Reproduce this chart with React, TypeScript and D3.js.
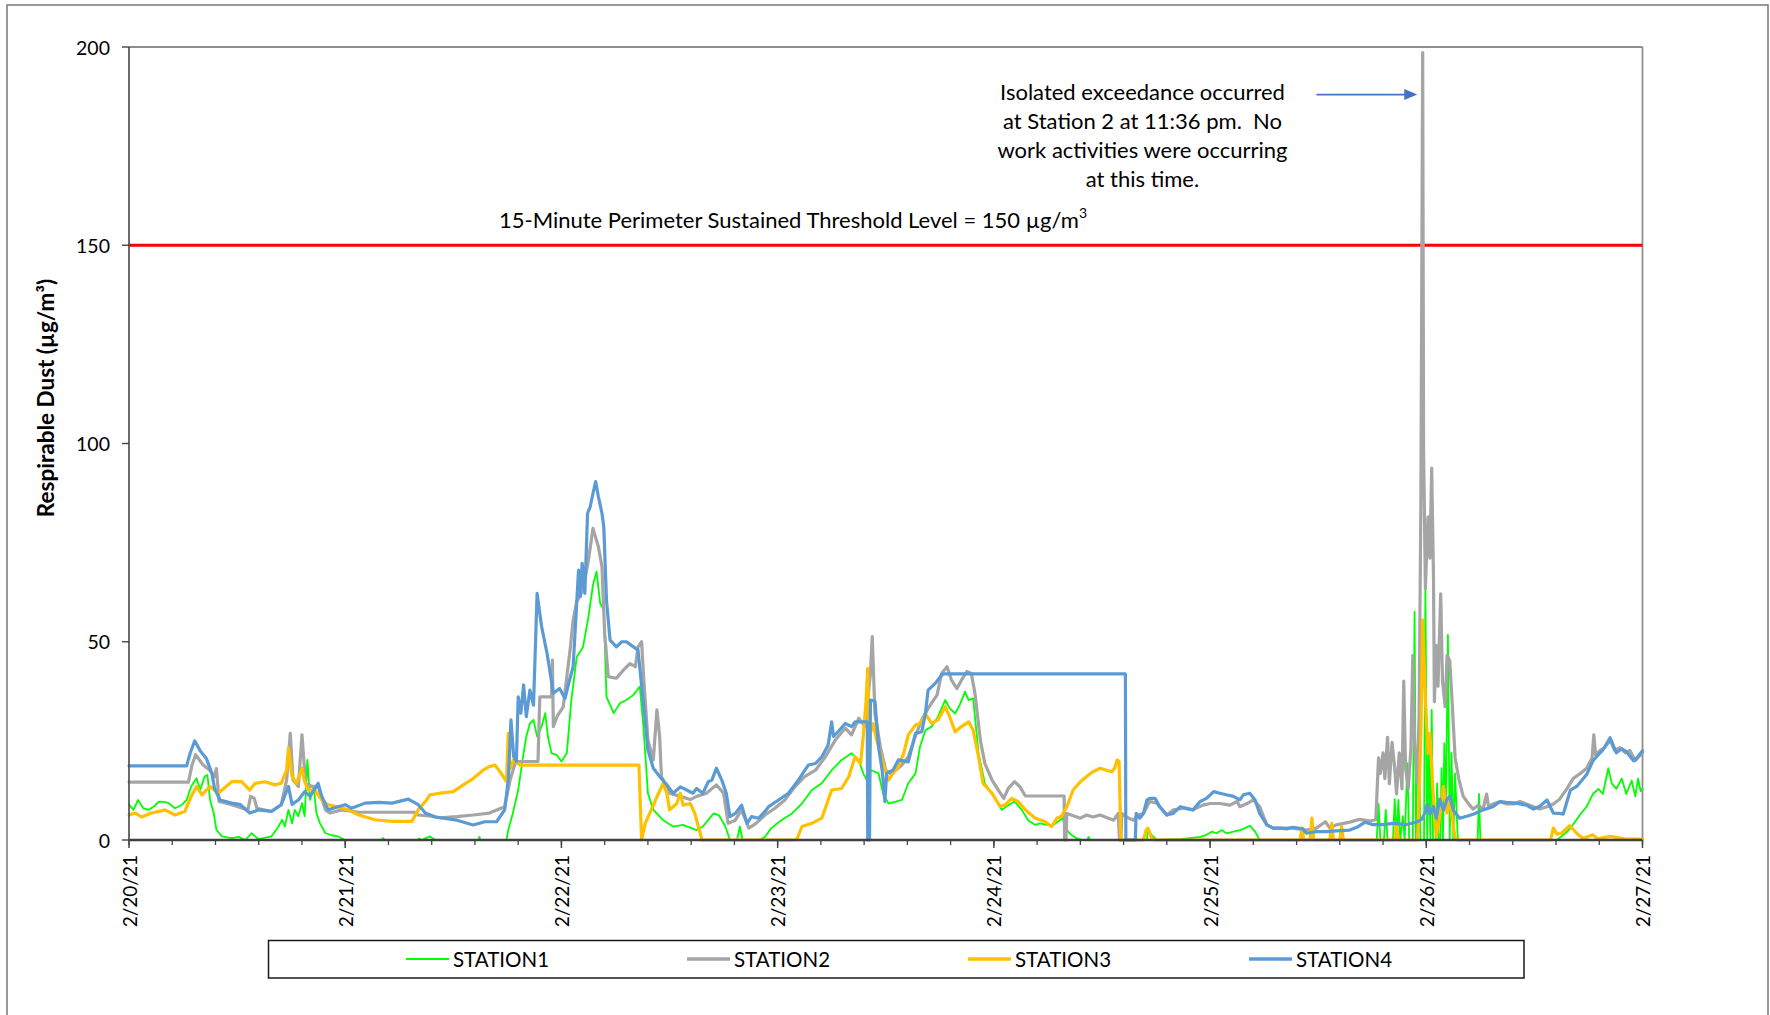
import React from "react";
import * as d3 from "d3";

// ---------- DATA (hours since 2/20/21 00:00, µg/m³) ----------
const station1: [number, number][] = [
  [0,8.9],[0.5,7.6],[1.0,10.1],[1.6,8],[2.2,7.6],[2.8,8.5],[3.3,9.7],[3.9,9.6],[4.4,9.3],[5.1,8],[5.9,8.9],[6.4,10.1],[6.9,13.5],[7.5,15.6],[7.9,12.6],[8.4,16],[8.7,16.4],[9.0,10.1],[9.4,6.8],[9.7,2.6],[10.3,0.9],[11.4,0.5],[12.2,0.8],[12.9,0],[13.6,1.7],[14.4,0.2],[15.8,0.9],[16.6,3.4],[17.0,5.1],[17.3,3.4],[17.7,7.6],[18.1,4.2],[18.4,7.6],[18.8,6],[19.2,9.3],[19.5,6],[19.8,20.2],[20.1,10.1],[20.5,13.5],[20.8,6.8],[21.2,4.2],[21.8,1.7],[22.5,1.2],[23.2,0.9],[24.0,0],[28.0,0],[28.2,0.5],[28.4,0],[32.0,0],[32.2,0.4],[32.5,0],[33.4,0.9],[34.0,0],[38.8,0],[38.9,0.8],[39.0,0],[41.9,0],[42.1,2.5],[42.6,6.7],[43.2,12.6],[43.8,21.9],[44.1,26.1],[44.5,29.4],[44.9,30.3],[45.3,26.1],[45.8,28.6],[46.2,32],[46.5,26.1],[46.9,21.9],[47.5,21.4],[48.0,19.8],[48.6,21.9],[49.1,35.3],[49.7,46.2],[50.4,48.7],[51.0,56.3],[51.5,64.3],[51.9,67.7],[52.3,59.7],[52.7,58],[53.0,36.1],[53.8,32],[54.5,34.5],[55.2,35.3],[56.0,36.6],[56.7,38.7],[57.1,28.6],[57.6,11.8],[58.2,7.6],[59.3,5],[60.4,3.4],[61.5,3.8],[63.0,2.5],[63.7,3.4],[64.9,6.7],[65.5,6.2],[66.2,3.4],[66.7,0],[67.5,0],[67.8,3.4],[68.1,0],[70.0,0],[70.6,0.8],[71.3,3],[72.4,5],[73.6,6.7],[74.7,9.2],[75.8,12.6],[76.9,14.3],[78.0,17.6],[79.1,20.2],[80.2,21.9],[81.0,20.2],[81.5,16.8],[81.9,15.1],[82.4,17.6],[83.2,16.8],[83.7,11.8],[84.3,9.2],[85.0,9.6],[85.8,10.1],[86.5,14.3],[87.3,16.8],[87.8,23.5],[88.4,27.7],[89.1,28.6],[89.8,31.1],[90.6,35.3],[91.1,33.2],[91.7,31.9],[92.2,34],[92.8,37.4],[93.2,35.3],[93.7,35.7],[94.3,21.9],[95.0,14.3],[96.0,10.9],[96.9,7.6],[97.6,8.8],[98.3,9.7],[99.1,7.6],[99.8,5],[100.6,3.8],[101.1,4.2],[101.9,3.8],[102.6,3.8],[103.3,5],[103.6,5.5],[104.1,2.5],[104.6,1.3],[105.2,0.4],[105.9,0],[106.4,0],[106.5,0.8],[106.7,0],[113.0,0],[113.1,3],[113.5,1.3],[114.1,0],[116.7,0.2],[118.9,0.8],[119.6,1.3],[120.2,2.1],[120.7,1.7],[121.3,2.5],[121.8,1.7],[122.6,2.1],[123.3,2.5],[123.9,3],[124.4,3.6],[125.0,2.1],[125.5,0],[138.5,0],[138.7,9.1],[138.9,0],[139.3,0],[139.5,7.6],[139.7,0],[140.3,0],[140.5,10.3],[140.7,0],[140.9,10.1],[141.1,0],[141.4,6],[141.6,0],[141.9,19.4],[142.1,0],[142.5,0],[142.7,57.6],[142.85,0],[143.0,20.7],[143.2,22.7],[143.35,0],[143.75,0],[143.9,63.9],[144.1,0],[144.3,25.9],[144.45,0],[144.6,32.8],[144.75,0],[145.05,0],[145.2,14.3],[145.35,0],[145.55,0],[145.7,18.1],[145.85,0],[146.0,24.4],[146.2,10],[146.4,51.7],[146.6,0],[146.8,22],[147.0,0],[147.2,16.8],[147.5,0],[149.7,0],[149.85,11.6],[150.0,0],[158.5,0],[159.6,2],[160.3,3.9],[161.1,6.5],[161.8,8.4],[162.5,11.6],[163.1,12.9],[163.6,11.6],[164.2,18.1],[164.6,14.2],[165.1,12.9],[165.7,15.5],[166.2,11.6],[166.8,15],[167.2,11],[167.5,15.5],[167.8,12.3],[168,13]
];

const station2: [number, number][] = [
  [0,14.6],[6.6,14.6],[7.0,19],[7.4,21.5],[8.2,19],[8.9,17.7],[9.5,16],[9.7,18],[10.0,9.7],[11.4,8.9],[13.2,7.6],[13.5,11],[13.9,10.5],[14.2,8],[15.8,7.2],[16.9,8.9],[17.5,15.2],[17.9,26.9],[18.2,15.2],[18.8,13.5],[19.2,26.5],[19.6,14.3],[20.3,13.5],[21.0,13.5],[21.8,7.6],[22.3,6.8],[23.6,7.6],[25.5,7.0],[31.7,7.0],[32.1,6.3],[33.6,6.0],[34.5,5.6],[36.4,5.9],[38.2,6.3],[40.0,6.8],[41.7,8.4],[42.3,15.1],[42.8,18.9],[43.0,19.8],[45.4,19.8],[45.6,36.1],[46.9,36.1],[47.0,45.4],[47.1,28.6],[47.5,31.1],[48.2,33.6],[49.0,48.7],[49.3,55.5],[49.7,60.1],[50.4,63.1],[51.0,70.6],[51.5,78.6],[52.1,74],[52.5,68.9],[52.8,52.1],[53.2,41.2],[54.1,40.8],[54.9,42.9],[55.6,44.5],[56.2,43.7],[56.5,48.7],[56.9,50],[57.1,42],[57.6,25.2],[58.2,20.2],[58.6,32.8],[58.9,26.1],[59.1,16],[60.0,11.8],[61.2,11],[62.3,10.2],[63.0,11],[64.1,11.8],[65.2,13.9],[66.0,11.8],[66.5,4.2],[67.3,5],[68.0,7.6],[68.8,3],[69.6,4.2],[70.6,6.3],[71.7,8],[72.8,10.1],[73.9,13.4],[75.0,16],[76.2,17.6],[77.3,21],[78.4,25.2],[79.5,28.2],[80.2,26.5],[81.0,30.7],[81.7,28.6],[82.3,42],[82.5,51.3],[82.8,31.9],[83.4,23.5],[84.0,17.6],[84.5,16.8],[85.1,17.6],[85.8,18.9],[86.5,21],[87.4,26.9],[88.0,30.3],[88.7,33.2],[89.7,36.6],[90.2,42],[90.8,43.7],[91.3,40.3],[91.9,38.2],[92.4,40.3],[93.0,42.5],[93.5,42],[93.9,37],[94.5,25.2],[95.0,19.3],[95.8,15.1],[96.5,12.6],[97.1,10.5],[97.6,13],[98.3,14.7],[98.9,13.4],[99.5,11.1],[103.8,11.1],[103.85,0],[104.0,0],[104.1,6.7],[105.6,5.5],[106.3,6.3],[107.0,5.8],[107.8,6.3],[108.5,5.7],[109.3,5],[109.8,6.7],[109.95,0],[110.1,0],[110.2,6.7],[110.7,5.8],[111.5,5],[112.0,6.3],[112.6,6.7],[113.3,9.7],[114.1,9.3],[115.2,6.3],[115.9,7.6],[117.0,8],[118.1,7.6],[119.2,8.8],[120.0,9.2],[121.1,9.2],[122.2,8.8],[123.0,9.7],[123.3,8.4],[124.1,9.2],[124.8,10.1],[125.5,8.4],[126.3,3.8],[127.0,3],[128.1,3],[129.2,3],[130.7,2.5],[131.8,3],[132.8,4.6],[133.3,3],[134.0,3.8],[135.5,4.5],[136.6,5.2],[137.8,4.8],[138.4,5.2],[138.7,20.7],[138.9,16.8],[139.2,22],[139.4,15.5],[139.7,25.9],[139.9,14.2],[140.2,24.6],[140.5,18.1],[140.7,11.6],[141.0,22],[141.3,12.9],[141.5,40.1],[141.7,18.1],[142.0,12.9],[142.3,23.3],[142.5,46.6],[142.7,24.6],[143.0,14.2],[143.2,31],[143.4,85.4],[143.6,198.6],[143.7,98.3],[143.9,63.4],[144.0,69.8],[144.2,81.5],[144.4,71.1],[144.6,93.8],[144.8,66],[144.9,34.9],[145.1,49.1],[145.3,38.8],[145.6,62.1],[145.8,40.1],[146.1,33.6],[146.3,46.6],[146.6,45.3],[146.9,33.6],[147.2,20.7],[147.6,15.5],[148.1,11],[148.7,9.1],[149.2,7.8],[149.8,8.8],[150.3,7.8],[150.7,11.6],[150.9,8.5],[151.4,9.1],[152.2,9.7],[152.9,9.1],[153.7,9.1],[154.4,9.7],[155.1,9.1],[155.9,8.4],[156.6,7.8],[157.4,8.4],[158.1,9.1],[158.8,10.3],[159.6,12.9],[160.3,15.5],[161.1,16.8],[161.8,18.1],[162.4,20.7],[162.6,26.5],[162.8,21.4],[163.3,22.6],[163.8,23.3],[164.4,25.2],[164.9,22.6],[165.5,23.3],[166.1,22],[166.6,22.6],[167.2,20],[167.7,21.3],[168,22]
];

const station3: [number, number][] = [
  [0,6.3],[0.7,6.8],[1.4,5.8],[2.5,6.8],[4.0,7.6],[5.1,6.3],[6.2,7.2],[6.9,11],[7.5,13.5],[8.1,11.4],[9.0,13.5],[9.9,11.8],[11.4,14.7],[12.5,14.7],[13.4,12.6],[14.0,14.3],[15.1,14.7],[16.2,13.9],[16.9,14.3],[17.5,17.7],[17.7,23.2],[18.1,16],[18.6,14.3],[19.2,18.1],[19.5,14.7],[19.9,12.6],[20.6,12.6],[21.4,10.1],[22.1,8.9],[23.2,8.4],[24.3,7.6],[25.5,6.3],[27.3,5.1],[29.2,4.7],[31.4,4.7],[32.1,7.6],[32.9,9.7],[33.4,11.4],[34.5,11.8],[36.0,12.2],[37.1,13.9],[38.2,15.5],[39.3,17.6],[40.0,18.5],[40.6,18.9],[41.2,17.2],[41.9,14.7],[42.1,26.9],[42.3,18],[42.7,20.2],[43.4,18.9],[56.6,18.9],[56.9,0],[57.3,4.2],[57.8,6.7],[58.6,10.9],[59.3,14.3],[59.7,11.8],[60.0,7.6],[60.8,9.2],[61.2,11.8],[61.5,8.8],[62.3,9.2],[62.8,6.7],[63.2,3.4],[63.6,0],[74.1,0],[74.7,3.4],[75.8,4.2],[76.9,5.5],[78.0,12.6],[79.1,13],[79.9,16],[80.6,21],[81.2,19.3],[81.5,26.1],[81.8,34.5],[82.0,43.3],[82.15,20],[82.3,26.9],[82.6,29.4],[83.0,25.2],[83.4,21.9],[83.7,19.3],[84.3,15.1],[84.8,16.8],[85.4,18.5],[86.0,21.9],[86.5,26.5],[87.3,29],[87.8,29.4],[88.5,31.5],[89.1,29.4],[89.8,30.3],[90.6,33.6],[91.1,31.1],[91.7,27.3],[92.4,28.6],[93.2,29.8],[93.7,27.7],[94.3,21],[94.8,14.3],[95.8,11.8],[96.7,8.4],[97.2,8.8],[98.0,10.5],[98.7,9.7],[99.5,7.6],[100.6,5.5],[101.7,4.6],[102.4,3.4],[103.0,5.5],[103.5,6],[104.1,8.4],[104.8,12.6],[105.6,14.7],[106.3,16],[107.0,17.2],[107.8,18.1],[108.5,17.6],[109.1,17.2],[109.4,18.1],[109.7,20.2],[109.9,19.8],[110.1,0],[112.6,0],[112.9,2.5],[113.1,3],[113.5,0.5],[113.9,0],[130.0,0],[130.2,3],[130.4,0],[131.1,0],[131.3,5.5],[131.5,0],[133.3,0],[133.5,4.2],[133.7,0],[134.4,0],[134.6,3.4],[134.8,0],[140.5,0],[140.7,4.2],[140.9,0],[143.0,0],[143.1,3.4],[143.4,26.9],[143.6,55.5],[143.9,35.3],[144.2,21.9],[144.4,26.9],[144.8,10.1],[145.1,0.9],[145.5,5.9],[145.9,13.5],[146.3,6.8],[146.6,10.1],[147.2,0.5],[147.5,0],[157.8,0],[158.1,3],[158.5,1.5],[159.0,1.7],[159.9,3.6],[160.7,1.7],[161.4,0.4],[162.5,1.3],[163.0,0.3],[164.4,0.9],[166,0.3],[168,0.2]
];

const station4: [number, number][] = [
  [0,18.7],[6.4,18.7],[6.8,22],[7.3,25],[7.9,22.5],[8.6,20.5],[9.2,16.8],[9.5,13],[10.1,10.1],[11.4,9.3],[12.3,9],[13.4,6.8],[14.4,7.6],[15.8,7.2],[16.9,8.9],[17.7,13.5],[18.1,9],[18.8,10.1],[19.5,12.2],[20.1,11],[21.0,14.3],[21.4,11],[22.1,7.6],[23.2,8.4],[24.0,8.9],[24.7,8],[26.2,9.3],[27.7,9.5],[29.2,9.3],[31.0,10.3],[32.1,8.9],[32.9,6.8],[34.0,5.8],[36.4,5.0],[38.2,3.8],[39.5,4.6],[40.8,4.6],[41.7,7.6],[42.1,15.1],[42.4,30.3],[42.7,21],[43.0,19.8],[43.2,36.1],[43.5,32],[43.8,39.1],[44.1,31.1],[44.5,37.8],[44.9,34],[45.3,62.2],[45.8,53.8],[46.4,47.1],[46.7,42.9],[47.1,37],[47.8,38.2],[48.4,35.7],[48.9,40.3],[49.3,43.7],[49.9,68.1],[50.1,61.4],[50.3,69.8],[50.6,62.2],[50.9,82.4],[51.2,84.1],[51.5,87.4],[51.8,90.4],[52.1,86.6],[52.5,82.4],[52.7,79],[53.0,60.5],[53.4,50.4],[54.1,48.7],[54.7,50],[55.2,50],[56.0,48.7],[56.5,47.9],[57.1,34.5],[57.6,22.7],[58.2,18.1],[58.9,16],[59.7,13.9],[60.4,11.8],[61.2,13.4],[61.9,12.6],[62.6,11.8],[63.0,13],[63.7,11.8],[64.3,14.7],[64.7,15.1],[65.2,18.1],[65.8,15.1],[66.3,11.8],[66.7,5.9],[67.3,6.7],[68.0,8.8],[68.6,4.2],[69.1,5.9],[69.9,5.5],[70.6,7.2],[71.0,8.4],[72.1,10.1],[73.2,11.8],[74.3,15.1],[75.4,18.9],[76.2,19.3],[76.9,21],[77.6,23.9],[78.0,29.8],[78.2,26.1],[78.7,27.3],[79.5,29.4],[80.2,28.6],[80.6,29.8],[81.95,29.8],[82.0,0],[82.2,0],[82.3,35.3],[82.8,35],[83.2,23.5],[83.6,17.6],[83.9,9.7],[84.1,16.8],[84.8,17.6],[85.4,20.2],[86.5,19.7],[87.3,26.9],[88.0,27.3],[88.4,31.9],[88.7,37.8],[89.5,39.5],[90.2,41.6],[90.4,41.9],[110.6,41.9],[110.65,0],[111.7,0],[111.8,6.7],[112.2,5.5],[112.6,6.7],[113.0,10.1],[113.3,10.5],[113.9,10.5],[114.4,8.4],[115.2,6.3],[115.9,6.7],[116.7,8.4],[117.4,8],[118.1,7.6],[118.9,9.7],[119.6,10.5],[120.4,12.2],[121.1,11.8],[121.8,11.4],[122.6,11],[123.3,10.1],[123.7,11.4],[124.4,11.8],[125.0,10.1],[125.5,6.7],[126.3,3.8],[127.0,3],[127.8,3],[128.5,2.8],[129.2,3.2],[130.3,2.8],[130.7,1.7],[131.8,2.1],[132.9,2.1],[134.0,2.3],[135.5,2.5],[136.3,3.2],[137.2,4.5],[138.0,3.9],[139.2,3.9],[140.3,4.2],[141.8,3.9],[142.9,4.5],[143.5,5.2],[143.9,7.1],[144.1,9.1],[144.4,6.5],[144.8,8.4],[145.1,5.5],[145.5,10.3],[145.9,7.5],[146.3,10.3],[146.6,11],[147.0,7.5],[147.7,5.5],[148.5,6],[149.2,6.5],[150.3,7.6],[151.4,8.4],[152.2,9.7],[152.9,9.5],[154.0,9.3],[155.1,8.8],[155.9,7.8],[156.6,8.5],[157.4,10.1],[158.1,6.8],[158.8,6.7],[159.2,6.5],[160.0,12.6],[160.7,13.5],[161.8,16.5],[162.5,20],[163.3,22],[163.6,22.7],[164.4,25.8],[165.1,22],[165.7,23],[166.2,22.3],[167.0,20],[167.5,21],[168,22.5]
];

const seriesNames = ["STATION1", "STATION2", "STATION3", "STATION4"];
const seriesColors = ["#00ff00", "#a5a5a5", "#ffc000", "#5b9bd5"];
const seriesWidths = [1.8, 3.2, 3.2, 3.2];
const seriesData = [station1, station2, station3, station4];
const drawOrder = [0, 1, 2, 3];

const yTicks = [0, 50, 100, 150, 200];
const thresholdValue = 150;
const thresholdLabel = "15-Minute Perimeter Sustained Threshold Level = 150 µg/m";
const annotationLines = [
  "Isolated exceedance occurred",
  "at Station 2 at 11:36 pm.  No",
  "work activities were occurring",
  "at this time.",
];
const yTitle = "Respirable Dust (µg/m³)";
const startDate = new Date(2021, 1, 20);
const numDays = 7;
const minorStepHours = 4.8;

// ---------- LAYOUT ----------
const W = 1770, H = 1015;
const PL = 129, PR = 1642.5, PT = 47, PB = 840;
const FONT = "Lato, 'Open Sans', sans-serif";

const toDate = (h: number) => new Date(startDate.getTime() + h * 3600e3);

export default function App() {
  const x = d3.scaleTime().domain([startDate, toDate(numDays * 24)]).range([PL, PR]);
  const y = d3.scaleLinear().domain([0, 200]).range([PB, PT]);
  const line = d3.line<[number, number]>().x(d => x(toDate(d[0]))).y(d => y(d[1]));
  const days = d3.range(0, numDays + 1).map(i => toDate(i * 24));
  const minors = d3.range(0, Math.round((numDays * 24) / minorStepHours) + 1).map(i => toDate(i * minorStepHours));
  const fmt = d3.timeFormat("%-m/%-d/%y");

  const legendX0 = 406, legendStep = 281, legendY = 959;

  const arrowY = y(188);
  const arrowX1 = x(toDate(131.8));
  const arrowX2 = x(toDate(143.0));

  return (
    <svg width={W} height={H} style={{ position: "absolute", left: 0, top: 0, background: "#fff" }} fontFamily={FONT}>
      <rect x={0} y={0} width={W} height={H} fill="#fff" />
      <rect x={7} y={5} width={1761} height={1030} fill="none" stroke="#7a7a7a" strokeWidth={1.5} />

      <line x1={PL} x2={PR} y1={PT} y2={PT} stroke="#8e8e8e" strokeWidth={1.8} />
      <line x1={PR} x2={PR} y1={PT} y2={PB} stroke="#8e8e8e" strokeWidth={1.8} />

      <line x1={PL} x2={PR} y1={y(thresholdValue)} y2={y(thresholdValue)} stroke="#ff0000" strokeWidth={3.2} />
      <text x={793} y={228} textAnchor="middle" fontSize={22} fill="#000">
        {thresholdLabel}
        <tspan fontSize={14} dy={-10}>3</tspan>
      </text>

      {drawOrder.map(i => (
        <path key={seriesNames[i]} d={line(seriesData[i]) || ""} fill="none" stroke={seriesColors[i]}
          strokeWidth={seriesWidths[i]} strokeLinejoin="round" strokeLinecap="round" />
      ))}

      <line x1={PL} x2={PL} y1={PT} y2={PB} stroke="#454545" strokeWidth={1.6} />
      {yTicks.map(t => (
        <g key={t}>
          <line x1={PL - 7} x2={PL} y1={y(t)} y2={y(t)} stroke="#454545" strokeWidth={1.4} />
          <text x={110} y={y(t)} textAnchor="end" dominantBaseline="central" fontSize={19.5} fill="#000">{t}</text>
        </g>
      ))}
      <text transform={`translate(45, 398) rotate(-90)`} textAnchor="middle" dominantBaseline="central"
        fontSize={22.5} fontWeight="bold" fill="#000">{yTitle}</text>

      {minors.map((d, i) => (
        <line key={"m" + i} x1={x(d)} x2={x(d)} y1={PB} y2={PB + 5} stroke="#454545" strokeWidth={1.3} />
      ))}
      {days.map((d, i) => (
        <g key={"d" + i}>
          <line x1={x(d)} x2={x(d)} y1={PB} y2={PB + 8} stroke="#454545" strokeWidth={1.5} />
          <text transform={`translate(${x(d)}, 855) rotate(-90)`} textAnchor="end" dominantBaseline="central"
            fontSize={19} fill="#000">{fmt(d)}</text>
        </g>
      ))}
      <line x1={PL} x2={PR} y1={PB} y2={PB} stroke="#404040" strokeWidth={2.6} />

      {annotationLines.map((s, i) => (
        <text key={i} x={1142.5} y={100 + i * 29} textAnchor="middle" fontSize={22} fill="#000"
          style={{ whiteSpace: "pre" }}>{s}</text>
      ))}
      <line x1={arrowX1} x2={arrowX2 - 12} y1={arrowY} y2={arrowY} stroke="#4472c4" strokeWidth={1.6} />
      <path d={`M${arrowX2},${arrowY} L${arrowX2 - 13},${arrowY - 5.5} L${arrowX2 - 13},${arrowY + 5.5} Z`} fill="#4472c4" />

      <rect x={268.5} y={940.5} width={1255.5} height={37.5} fill="#fff" stroke="#1a1a1a" strokeWidth={1.5} />
      {seriesNames.map((n, i) => (
        <g key={n}>
          <line x1={legendX0 + i * legendStep} x2={legendX0 + i * legendStep + 43} y1={legendY} y2={legendY}
            stroke={seriesColors[i]} strokeWidth={i === 0 ? 2 : 3.5} />
          <text x={legendX0 + i * legendStep + 47} y={legendY} dominantBaseline="central" fontSize={20.5} fill="#000">{n}</text>
        </g>
      ))}
    </svg>
  );
}
